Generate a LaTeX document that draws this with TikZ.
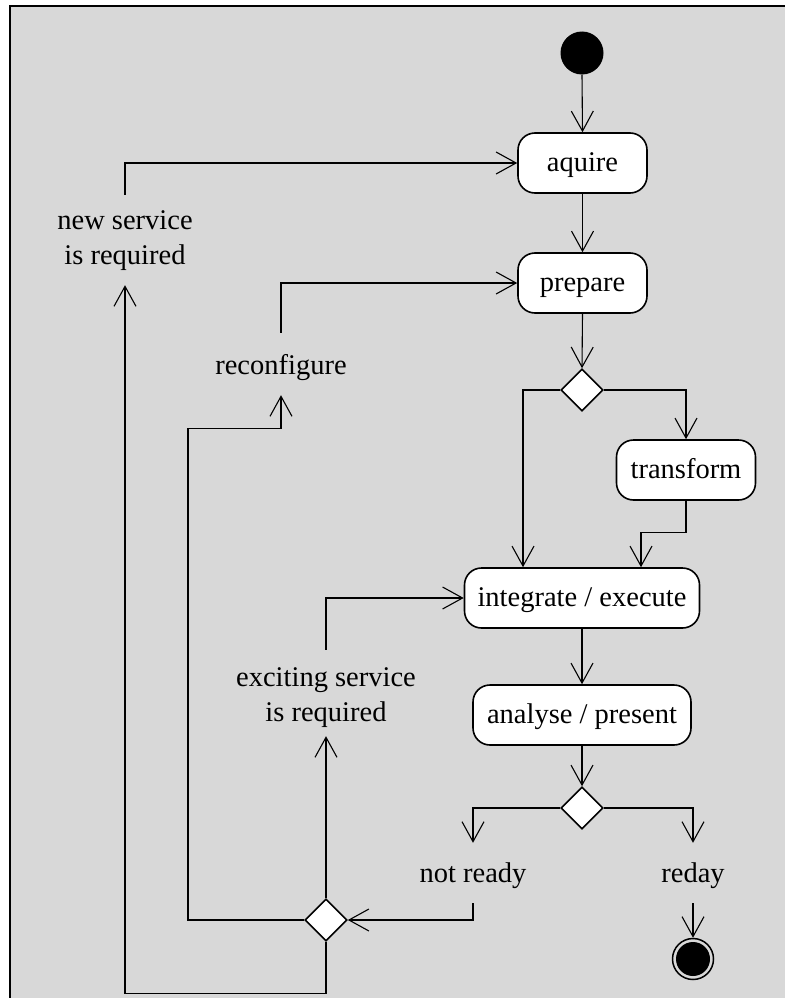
\documentclass[tikz,border=0pt]{standalone}
\usepackage{fontspec}
\setmainfont{Liberation Serif}
\usetikzlibrary{arrows.meta,shapes.geometric,calc}
\definecolor{panel}{RGB}{216,216,216}
% lower a label's text without changing the size of its box
\newcommand{\droptext}[2]{\raisebox{-#1}[\height][\depth]{#2}}
\begin{document}
\begin{tikzpicture}[x=1pt,y=-1pt,
  every node/.style={font=\fontsize{28.5}{34}\selectfont},
  action/.style={draw,line width=1.6pt,fill=white,rounded corners=17pt,
    minimum height=60pt,inner sep=0pt,text height=21pt,text depth=5pt},
  decision/.style={diamond,draw,line width=1.6pt,fill=white,
    minimum width=42pt,minimum height=42pt,inner sep=0pt},
  guard/.style={align=center,inner sep=0pt},
  flow/.style={line width=1.1pt,-{Straight Barb[length=20pt,width=22pt,line width=1.1pt]}}]
\useasboundingbox (0,0) rectangle (784,998);
% panel behind the diagram
\draw[fill=panel,line width=2pt] (9.5,6.5) rectangle (800,1010);

% activities and decisions
\node[circle,fill=black,minimum size=43pt,inner sep=0pt] (start) at (582,53) {};
\node[action,minimum width=129pt] (aquire) at (582.5,163) {aquire};
\node[action,minimum width=129pt] (prepare) at (582.5,283) {prepare};
\node[decision] (d1) at (582,390) {};
\node[action,minimum width=139pt] (transform) at (686,470) {transform};
\node[action,minimum width=235pt] (integrate) at (582,598) {integrate / execute};
\node[action,minimum width=218pt] (analyse) at (582,715) {analyse / present};
\node[decision] (d2) at (582,808) {};
\node[decision] (d3) at (326,920) {};

% end state
\node[circle,draw,line width=1.5pt,minimum size=41pt,inner sep=0pt] (final) at (693,959) {};
\node[circle,fill=black,minimum size=34pt,inner sep=0pt] (finalcore) at (final.center) {};

% guard labels
\node[guard,minimum height=60pt] (notready) at (473,873) {\droptext{3pt}{not ready}};
\node[guard,minimum height=60pt] (reday) at (693,873) {\droptext{3pt}{reday}};
\node[guard,minimum height=86pt] (exciting) at (326,693) {\droptext{4pt}{\begin{tabular}{@{}c@{}}exciting service\\[1pt]is required\end{tabular}}};
\node[guard,minimum height=62pt] (reconfig) at (281,364) {\droptext{4pt}{reconfigure}};
\node[guard,minimum height=90pt] (newsvc) at (125,240) {\begin{tabular}{@{}c@{}}new service\\[1pt]is required\end{tabular}};

% main flow
\draw[flow] (start.south) -- (aquire.north);
\draw[flow] (aquire.south) -- (prepare.north);
\draw[flow] (prepare.south) -- (d1.north);
\draw[flow] (d1.west) -| ([xshift=-59pt]integrate.north);
\draw[flow] (d1.east) -| (transform.north);
\draw[flow] (transform.south) -- ++(0,32) -| ([xshift=59pt]integrate.north);
\draw[flow] (integrate.south) -- (analyse.north);
\draw[flow] (analyse.south) -- (d2.north);
\draw[flow] (d2.west) -| (notready.north);
\draw[flow] (d2.east) -| (reday.north);
\draw[flow] (reday.south) -- (final.north);

% loops back
\draw[flow] (notready.south) |- (d3.east);
\draw[flow] (d3.north) -- (exciting.south);
\draw[flow] (exciting.north) |- (integrate.west);
\draw[flow] (d3.west) -| ($(reconfig.south)+(-93,33)$) -| (reconfig.south);
\draw[flow] (reconfig.north) |- (prepare.west);
\draw[flow] (d3.south) -- ++(0,52) -| (newsvc.south);
\draw[flow] (newsvc.north) |- (aquire.west);
\end{tikzpicture}
\end{document}
